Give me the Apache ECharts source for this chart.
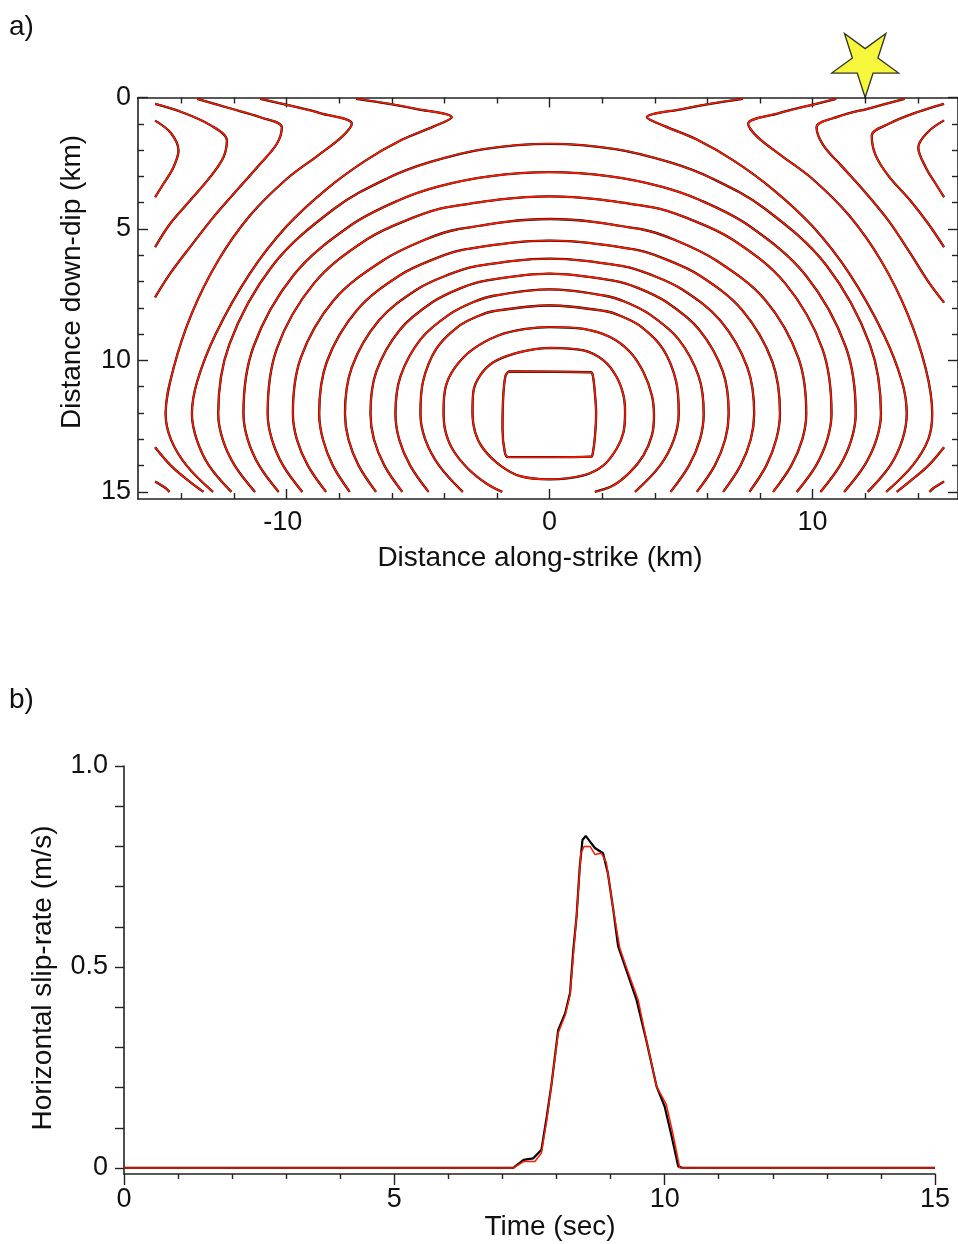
<!DOCTYPE html>
<html><head><meta charset="utf-8">
<script src="https://cdn.jsdelivr.net/npm/echarts@6/dist/echarts.min.js"></script>
<style>html,body{margin:0;padding:0;background:#fff}#c{width:958px;height:1244px}</style>
</head><body><div id="c"></div>
<script>
// ---------- Panel a: rupture-time contours (x = along-strike km, y = down-dip km) ----------
const contourSq = [[-1.57,10.42],[1.57,10.45],[1.65,10.6],[1.73,11.33],[1.77,12.0],[1.73,12.85],[1.64,13.55],[1.58,13.66],[0,13.68],[-1.57,13.68],[-1.7,13.5],[-1.79,12.6],[-1.76,11.33],[-1.68,10.6],[-1.57,10.42]];
const contour02 = [[0,9.52],[1.29,9.62],[2.05,10.0],[2.55,10.63],[2.81,11.33],[2.87,11.97],[2.81,12.73],[2.55,13.36],[2.05,13.99],[1.29,14.37],[0,14.52],[-1.12,14.4],[-1.88,13.99],[-2.52,13.36],[-2.83,12.73],[-2.93,11.97],[-2.9,11.2],[-2.64,10.57],[-2.14,10.07],[-1.37,9.75],[-0.49,9.56],[0,9.52]];
const contour03 = [[-1.8,15.0],[-2.39,14.69],[-3.1,14.12],[-3.7,13.36],[-3.98,12.6],[-4.03,11.9],[-3.95,11.0],[-3.62,10.3],[-2.95,9.6],[-1.95,9.05],[-0.9,8.8],[0,8.73],[1.29,8.8],[2.3,9.11],[3.06,9.68],[3.57,10.45],[3.89,11.33],[3.97,12.09],[3.89,12.85],[3.57,13.61],[3.06,14.25],[2.43,14.75],[1.72,15.0]];
const contour04 = [[-3.3,15],[-4.2,14],[-4.73,13],[-4.91,12.03],[-4.81,10.79],[-4.31,9.56],[-3.5,8.73],[-2.73,8.32],[-2.1,8.12],[0,7.91],[2.1,8.12],[2.73,8.32],[3.5,8.73],[4.31,9.56],[4.81,10.79],[4.91,12.03],[4.73,13],[4.2,14],[3.25,15]];
const contour05 = [[-4.6,15],[-5.3,14],[-5.72,13],[-5.86,12.03],[-5.67,10.61],[-4.9,9.19],[-3.81,8.25],[-2.87,7.77],[-2.12,7.54],[0,7.3],[2.12,7.54],[2.87,7.77],[3.81,8.25],[4.9,9.19],[5.67,10.61],[5.86,12.03],[5.72,13],[5.3,14],[4.6,15]];
const contour06 = [[-5.6,15],[-6.28,14],[-6.68,13],[-6.81,12.03],[-6.59,10.43],[-5.69,8.83],[-4.43,7.77],[-3.33,7.23],[-2.47,6.97],[0,6.7],[2.47,6.97],[3.33,7.23],[4.43,7.77],[5.69,8.83],[6.59,10.43],[6.81,12.03],[6.68,13],[6.28,14],[5.6,15]];
const contour07 = [[-6.6,15],[-7.26,14],[-7.65,13],[-7.78,12.03],[-7.52,10.26],[-6.5,8.49],[-5.06,7.31],[-3.8,6.72],[-2.82,6.42],[0,6.13],[2.82,6.42],[3.8,6.72],[5.06,7.31],[6.5,8.49],[7.52,10.26],[7.78,12.03],[7.65,13],[7.26,14],[6.6,15]];
const contour08 = [[-7.6,15],[-8.24,14],[-8.62,13],[-8.76,12.03],[-8.47,10.05],[-7.32,8.08],[-5.69,6.76],[-4.28,6.1],[-3.17,5.77],[0,5.44],[3.17,5.77],[4.28,6.1],[5.69,6.76],[7.32,8.08],[8.47,10.05],[8.76,12.03],[8.62,13],[8.24,14],[7.6,15]];
const contour09 = [[-8.5,15],[-9.19,14],[-9.61,13],[-9.76,12.03],[-9.46,9.9],[-8.2,7.7],[-6.34,6.2],[-4.77,5.42],[-3.53,5.02],[0,4.62],[3.53,5.02],[4.77,5.42],[6.34,6.2],[8.2,7.7],[9.46,9.9],[9.76,12.03],[9.61,13],[9.19,14],[8.5,15]];
const contour10 = [[-9.4,15],[-10.13,14],[-10.56,13],[-10.72,12.03],[-10.37,9.55],[-8.96,7.07],[-6.97,5.41],[-5.24,4.59],[-3.88,4.17],[0,3.76],[3.88,4.17],[5.24,4.59],[6.97,5.41],[8.96,7.07],[10.37,9.55],[10.72,12.03],[10.56,13],[10.13,14],[9.4,15]];
const contour11 = [[-10.3,15],[-11.04,14],[-11.48,13],[-11.64,12.03],[-11.26,9.48],[-9.73,6.75],[-7.57,4.87],[-5.69,3.89],[-4.21,3.38],[-2.3,3.0],[0,2.84],[2.3,3.0],[4.21,3.38],[5.69,3.89],[7.57,4.87],[9.73,6.75],[11.26,9.48],[11.64,12.03],[11.48,13],[11.04,14],[10.3,15]];
const contour12 = [[-11.2,15],[-11.97,14],[-12.43,13],[-12.6,12.03],[-12.18,9.4],[-10.53,6.39],[-8.19,4.23],[-6.16,3.07],[-4.56,2.46],[-2.5,1.96],[0,1.76],[2.5,1.96],[4.56,2.46],[6.16,3.07],[8.19,4.23],[10.53,6.39],[12.18,9.4],[12.6,12.03],[12.43,13],[11.97,14],[11.2,15]];
const contour13R = [[7.35,0.05],[6.1,0.24],[5.09,0.43],[3.7,0.75],[4.4,1.1],[5.6,1.6],[7.0,2.4],[8.5,3.5],[10.0,4.9],[11.4,6.7],[12.7,9.0],[13.4,10.8],[13.58,12.03],[13.42,13.0],[12.95,14.0],[12.1,15.0]];
const contour13L = [[-7.35,0.05],[-6.1,0.24],[-5.09,0.43],[-3.72,0.75],[-4.4,1.1],[-5.6,1.6],[-7.0,2.4],[-8.5,3.5],[-10.0,4.9],[-11.4,6.7],[-12.7,9.0],[-13.4,10.8],[-13.6,12.03],[-13.42,13.0],[-12.95,14.0],[-12.1,15.0]];
const contour14R = [[10.9,0.05],[9.9,0.3],[8.7,0.6],[7.55,1.0],[7.9,1.5],[8.8,2.2],[10.0,3.1],[11.4,4.5],[12.6,6.2],[13.6,8.2],[14.3,10.3],[14.55,12.03],[14.4,13.0],[13.8,14.0],[12.8,15.0]];
const contour14L = [[-11.0,0.05],[-9.9,0.3],[-8.7,0.6],[-7.52,1.0],[-7.9,1.5],[-8.8,2.2],[-10.0,3.1],[-11.4,4.5],[-12.6,6.2],[-13.6,8.2],[-14.3,10.3],[-14.6,12.03],[-14.4,13.0],[-13.8,14.0],[-12.8,15.0]];
const contour15R = [[13.5,0.05],[12.2,0.4],[11.0,0.72],[10.15,1.13],[10.4,1.8],[11.1,2.6],[12.0,3.6],[12.9,4.7],[13.7,5.9],[14.4,7.0],[15.0,7.8]];
const contour15L = [[-13.4,0.05],[-12.2,0.4],[-11.0,0.75],[-10.18,1.13],[-10.37,1.76],[-11.0,2.52],[-11.9,3.54],[-12.78,4.55],[-13.67,5.69],[-14.43,6.7],[-15.0,7.6]];
const contour15RB = [[15.0,13.3],[14.4,14.0],[13.7,14.6],[13.2,15.0]];
const contour15LB = [[-15.0,13.3],[-14.4,14.0],[-13.7,14.6],[-13.16,15.0]];
const contour16R = [[15.0,0.24],[14.0,0.55],[12.9,1.0],[12.25,1.45],[12.4,2.2],[12.9,3.0],[13.7,3.9],[14.4,4.8],[15.0,5.69]];
const contour16L = [[-15.0,0.24],[-14.0,0.55],[-12.9,1.05],[-12.27,1.63],[-12.4,2.27],[-12.91,3.03],[-13.67,3.92],[-14.43,4.8],[-15.0,5.69]];
const contour16RB = [[15.0,14.6],[14.6,14.85],[14.45,15.0]];
const contour16LB = [[-15.0,14.6],[-14.6,14.85],[-14.45,15.0]];
const contour17R = [[15.0,0.87],[14.4,1.3],[14.02,1.9],[14.3,2.65],[14.68,3.28],[15.0,3.79]];
const contour17L = [[-15.0,0.88],[-14.4,1.35],[-14.11,2.02],[-14.3,2.65],[-14.68,3.28],[-15.0,3.79]];
const stationStar = [[12.0, 0]];

const xTicksA = [-10, 0, 10];
const xMinorA = [-14, -12, -8, -6, -4, -2, 2, 4, 6, 8, 12, 14];
const yTicksA = [0, 5, 10, 15];
const yMinorA = [1, 2, 3, 4, 6, 7, 8, 9, 11, 12, 13, 14];

// ---------- Panel b: horizontal slip-rate at the station ----------
const timeBlack = [0, 7.2, 7.39, 7.57, 7.72, 7.82, 7.91, 8.03, 8.16, 8.25, 8.31, 8.37, 8.43, 8.48, 8.54, 8.62, 8.71, 8.86, 8.95, 9.05, 9.14, 9.29, 9.48, 9.66, 9.85, 10.0, 10.13, 10.25, 10.34, 15];
const rateBlack = [0, 0, 0.02, 0.024, 0.045, 0.128, 0.211, 0.343, 0.385, 0.435, 0.542, 0.625, 0.75, 0.816, 0.826, 0.812, 0.796, 0.783, 0.733, 0.642, 0.551, 0.493, 0.418, 0.318, 0.203, 0.153, 0.078, 0.004, 0, 0];
const timeRed = [0, 7.2, 7.39, 7.6, 7.72, 7.82, 7.91, 8.03, 8.16, 8.25, 8.31, 8.37, 8.45, 8.51, 8.62, 8.71, 8.83, 8.92, 9.05, 9.17, 9.29, 9.51, 9.66, 9.85, 10.03, 10.15, 10.28, 10.4, 15];
const rateRed = [0, 0, 0.016, 0.016, 0.037, 0.12, 0.211, 0.336, 0.38, 0.43, 0.53, 0.625, 0.783, 0.80, 0.80, 0.78, 0.783, 0.76, 0.642, 0.547, 0.50, 0.418, 0.32, 0.203, 0.158, 0.087, 0, 0, 0];
const xTicksB = [0, 5, 10, 15];
const yTicksB = [0, 0.5, 1.0];
const yMinorB = [0, 0.1, 0.2, 0.3, 0.4, 0.5, 0.6, 0.7, 0.8, 0.9, 1.0];

// ---------- chart ----------
const FONT = 'Liberation Sans';
const AX = '#222';
const chart = echarts.init(document.getElementById('c'), null, {renderer: 'canvas'});

const contours = [contourSq, contour02, contour03, contour04, contour05, contour06, contour07, contour08, contour09, contour10, contour11, contour12,
  contour13R, contour13L, contour14R, contour14L, contour15R, contour15L, contour15RB, contour15LB, contour16R, contour16L, contour16RB, contour16LB, contour17R, contour17L];

function lineSeries(data, color, width, smooth, xi, yi, z) {
  return {type: 'line', data: data, xAxisIndex: xi, yAxisIndex: yi, showSymbol: false, symbol: 'none',
    smooth: smooth, lineStyle: {color: color, width: width}, silent: true, animation: false, z: z};
}
const series = [];
contours.forEach(c => series.push(lineSeries(c, '#000', 2.3, 0.35, 0, 0, 2)));
contours.forEach(c => series.push(lineSeries(c, '#ff1a00', 1.6, 0.35, 0, 0, 3)));
series.push({type: 'scatter', xAxisIndex: 0, yAxisIndex: 0, data: stationStar, clip: false, z: 10, silent: true,
  symbol: 'path://M0,100L-22.5,30.9L-95.1,30.9L-36.3,-11.8L-58.8,-80.9L0,-38.2L58.8,-80.9L36.3,-11.8L95.1,30.9L22.5,30.9Z',
  symbolSize: [67, 64], symbolOffset: [0, -32],
  itemStyle: {color: '#f4f40c', borderColor: '#000', borderWidth: 1.3}});
series.push(lineSeries(timeBlack.map((t, i) => [t, rateBlack[i]]), '#000', 2.2, false, 4, 4, 2));
series.push(lineSeries(timeRed.map((t, i) => [t, rateRed[i]]), '#ff1a00', 1.5, false, 4, 4, 3));

const noLabel = {show: false};
function xAx(grid, pos, min, max, ticks, len, showLine, labels, extra) {
  return {type: 'value', gridIndex: grid, position: pos, min: min, max: max,
    axisLine: {show: showLine, onZero: false, lineStyle: {color: AX, width: 1.6}},
    axisTick: {show: true, customValues: ticks, inside: len > 0, length: Math.abs(len), lineStyle: {color: AX, width: 1.4}},
    axisLabel: labels ? Object.assign({show: true, customValues: labels, color: '#111', fontFamily: FONT, fontSize: 27}, extra || {}) : noLabel,
    splitLine: {show: false}};
}
function yAx(grid, pos, min, max, ticks, len, showLine, labels, extra, inverse) {
  const a = xAx(grid, pos, min, max, ticks, len, showLine, labels, extra);
  a.inverse = !!inverse;
  return a;
}
const nameFont = '28px "Liberation Sans"';

const option = {
  animation: false,
  backgroundColor: '#fff',
  grid: [
    {left: 138, top: 97.5, width: 820, height: 401.5},
    {left: 124, top: 766, width: 811, height: 408}
  ],
  xAxis: [
    xAx(0, 'bottom', -15.65, 15.53, xTicksA, 10, true, xTicksA, {margin: 10, formatter: v => (v < 0 ? v + ' ' : '' + v)}),
    xAx(0, 'bottom', -15.65, 15.53, xMinorA, 6, false, null),
    xAx(0, 'top', -15.65, 15.53, xTicksA, 10, true, null),
    xAx(0, 'top', -15.65, 15.53, xMinorA, 6, false, null),
    xAx(1, 'bottom', 0, 15, xTicksB, -11, true, xTicksB, {margin: 12}),
    xAx(1, 'bottom', 0, 15, [1,2,3,4,6,7,8,9,11,12,13,14], -5, false, null)
  ],
  yAxis: [
    yAx(0, 'left', 0, 15.27, yTicksA, 10, true, yTicksA, {margin: 7}, true),
    yAx(0, 'left', 0, 15.27, yMinorA, 6, false, null, null, true),
    yAx(0, 'right', 0, 15.27, yTicksA, 10, true, null, null, true),
    yAx(0, 'right', 0, 15.27, yMinorA, 6, false, null, null, true),
    yAx(1, 'left', -0.015, 1.0, yMinorB, -9, true, yTicksB, {margin: 16, formatter: v => (Math.abs(v) < 1e-9 ? '0' : Number(v).toFixed(1))})
  ],
  graphic: [
    {type: 'text', left: 9, top: 13, style: {text: 'a)', font: nameFont, fill: '#111'}},
    {type: 'text', left: 9, top: 686, style: {text: 'b)', font: nameFont, fill: '#111'}},
    {type: 'text', x: 540, y: 558, style: {text: 'Distance along-strike (km)', font: nameFont, fill: '#111', align: 'center', verticalAlign: 'middle'}},
    {type: 'text', x: 72, y: 282, rotation: Math.PI / 2, style: {text: 'Distance down-dip (km)', font: nameFont, fill: '#111', align: 'center', verticalAlign: 'middle'}},
    {type: 'text', x: 550, y: 1227, style: {text: 'Time (sec)', font: nameFont, fill: '#111', align: 'center', verticalAlign: 'middle'}},
    {type: 'text', x: 43, y: 978, rotation: Math.PI / 2, style: {text: 'Horizontal slip-rate (m/s)', font: nameFont, fill: '#111', align: 'center', verticalAlign: 'middle'}}
  ],
  series: series
};
chart.setOption(option);
</script>
</body></html>
